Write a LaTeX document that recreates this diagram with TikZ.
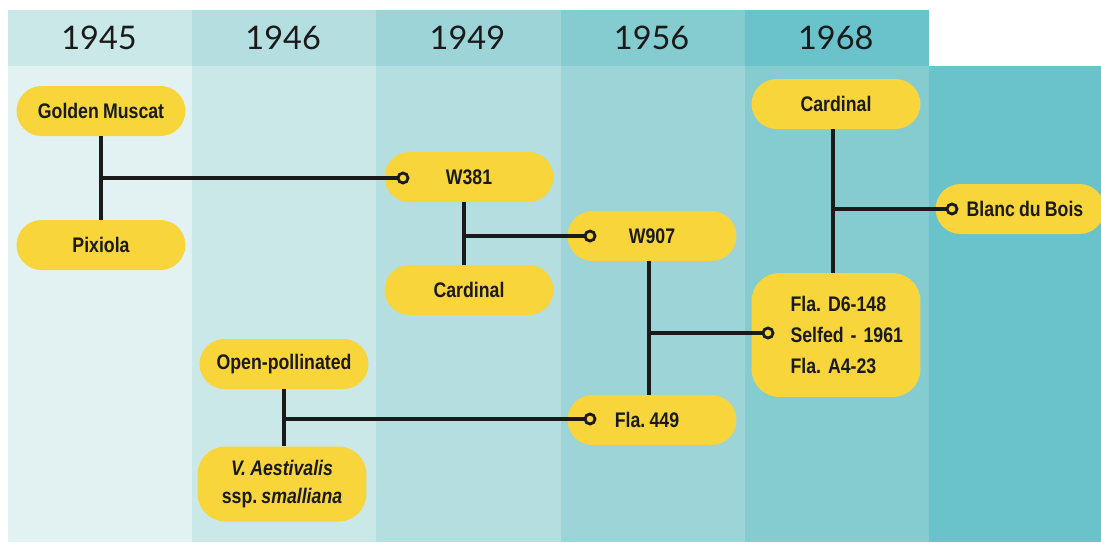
\documentclass[tikz,border=0pt]{standalone}
\usepackage{fontspec}
\setmainfont{Liberation Sans}
\newfontfamily\yearfont{Lato}
\newfontfamily\labelfont[FakeStretch=0.84, WordSpace=0.85]{Liberation Sans}
\usetikzlibrary{positioning,calc}
\definecolor{shadeA}{HTML}{E2F2F3}
\definecolor{shadeB}{HTML}{CBE8E9}
\definecolor{shadeC}{HTML}{B5DEE0}
\definecolor{shadeD}{HTML}{9DD4D8}
\definecolor{shadeE}{HTML}{85CCD0}
\definecolor{shadeF}{HTML}{6AC2CA}
\definecolor{plantyellow}{HTML}{F8D53A}
\definecolor{ink}{HTML}{1A1A1A}
\frenchspacing

\begin{document}
\begin{tikzpicture}[x=0.02cm, y=-0.02cm,
    yearhead/.style={text=ink, font=\yearfont\fontsize{18.5}{22}\selectfont},
    plant/.style={fill=plantyellow, rounded corners=0.5cm, minimum width=3.38cm, minimum height=1cm, inner sep=0pt, align=center, text=ink, font=\labelfont\bfseries\fontsize{12}{16}\selectfont},
    plantbig/.style={plant, rounded corners=0.56cm, text width=3.38cm, align=left, font=\labelfont\bfseries\fontsize{12}{17.6}\selectfont},
    link/.style={draw=ink, line width=1.8pt},
    dot/.style={circle, draw=ink, line width=1.6pt, fill=plantyellow, minimum size=0.2cm, inner sep=0pt}
  ]
  \useasboundingbox (0,0) rectangle (1101,542);
  \clip (0,0) rectangle (1101,542);
  \fill[white] (0,0) rectangle (1101,542);
  \foreach \i/\body/\head/\yr in {0/shadeA/shadeB/1945, 1/shadeB/shadeC/1946, 2/shadeC/shadeD/1949, 3/shadeD/shadeE/1956, 4/shadeE/shadeF/1968} {
    \fill[\body] (8+184.2*\i,66) rectangle (8+184.2*\i+184.6,542);
    \fill[\head] (8+184.2*\i,10) rectangle (8+184.2*\i+184.6,66);
    \node[yearhead] (y\yr) at (99+184.2*\i,38) {\yr};
  }
  \fill[shadeF] (929,66) rectangle (1101,542);

  \node[plant] (goldenmuscat) at (101,111) {Golden Muscat};
  \node[plant] (pixiola) at (101,245) {Pixiola};
  \node[plant] (openpoll) at (284,364) {Open-pollinated};
  \node[plant, minimum height=1.5cm, rounded corners=0.56cm] (aestivalis) at (282,484) {\itshape V. Aestivalis\\ssp. {\itshape smalliana}};
  \node[plant] (w381) at (469,177) {W381};
  \node[plant] (cardinala) at (469,290) {Cardinal};
  \node[plant] (w907) at (652,236) {W907};
  \node[plant] (fla449) at (652,420) {\hspace*{-0.1cm}Fla. 449\hspace*{0.1cm}};
  \node[plant] (cardinalb) at (836,104) {Cardinal};
  \node[plantbig, minimum height=2.48cm] (selfed) at (836,335) {\hspace*{0.78cm}Fla. D6-148\\\hspace*{0.78cm}Selfed - 1961\\\hspace*{0.78cm}Fla. A4-23};
  \node[plant] (blanc) at (1020,209) {\hspace*{0.2cm}Blanc du Bois};

  \node[dot] (dotw381) at (403,178) {};
  \node[dot] (dotw907) at (590,236) {};
  \node[dot] (dotfla449) at (590,419) {};
  \node[dot] (dotselfed) at (768,333) {};
  \node[dot] (dotblanc) at (952,209) {};

  \draw[link] (goldenmuscat) -- (pixiola);
  \draw[link] (goldenmuscat.south |- dotw381) -- (dotw381);
  \draw[link] ([xshift=-0.1cm]w381.south) -- ([xshift=-0.1cm]cardinala.north);
  \draw[link] ([xshift=-0.1cm]w381.south |- dotw907) -- (dotw907);
  \draw[link] (openpoll) -- (aestivalis.north -| openpoll);
  \draw[link] (openpoll.south |- dotfla449) -- (dotfla449);
  \draw[link] ([xshift=-0.06cm]w907.south) -- ([xshift=-0.06cm]fla449.north);
  \draw[link] ([xshift=-0.06cm]w907.south |- dotselfed) -- (dotselfed);
  \draw[link] ([xshift=-0.06cm]cardinalb.south) -- ([xshift=-0.06cm]selfed.north);
  \draw[link] ([xshift=-0.06cm]cardinalb.south |- dotblanc) -- (dotblanc);
\end{tikzpicture}
\end{document}
